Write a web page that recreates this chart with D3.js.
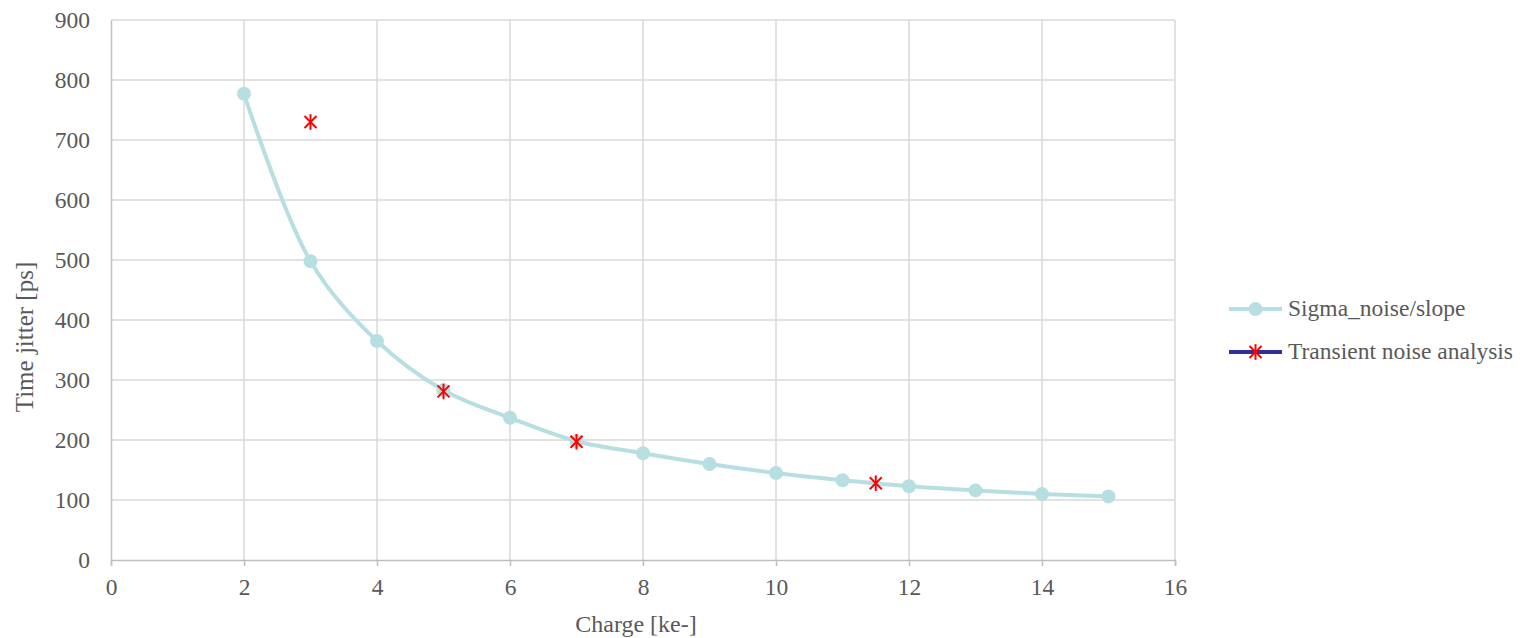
<!DOCTYPE html>
<html>
<head>
<meta charset="utf-8">
<script src="https://cdn.jsdelivr.net/npm/d3@7"></script>
<style>
  html, body { margin: 0; padding: 0; background: #fff; }
  svg { display: block; }
  text { font-family: "Liberation Serif", "Times New Roman", serif; fill: #595959; }
</style>
</head>
<body>
<svg id="chart" width="1527" height="638"></svg>
<script>
// Charge in ke- and the corresponding time jitter in ps
const sigmaCharge = [2, 3, 4, 5, 6, 7, 8, 9, 10, 11, 12, 13, 14, 15];
const sigmaJitter = [777, 498, 365, 283, 237, 198, 178, 160, 145, 133, 123, 116, 110, 106];
const transientCharge = [3, 5, 7, 11.5];
const transientJitter = [730, 281, 197, 128];
const xTicks = [0, 2, 4, 6, 8, 10, 12, 14, 16];
const yTicks = [0, 100, 200, 300, 400, 500, 600, 700, 800, 900];
const seriesNames = ["Sigma_noise/slope", "Transient noise analysis"];

const svg = d3.select("#chart");
const plot = { left: 111, right: 1175, top: 20, bottom: 560 };

const x = d3.scaleLinear().domain([0, 16]).range([plot.left, plot.right]);
const y = d3.scaleLinear().domain([0, 900]).range([plot.bottom, plot.top]);

const gridColor = "#d9d9d9";
const axisColor = "#bfbfbf";
const sigmaColor = "#b7dfe2";
const starColor = "#ff0000";
const tickFont = 23.5;

// Gridlines
svg.append("g").selectAll("line").data(yTicks.filter(d => d > 0)).join("line")
  .attr("x1", plot.left).attr("x2", plot.right)
  .attr("y1", d => y(d)).attr("y2", d => y(d))
  .attr("stroke", gridColor).attr("stroke-width", 1.5);
svg.append("g").selectAll("line").data(xTicks.filter(d => d > 0)).join("line")
  .attr("x1", d => x(d)).attr("x2", d => x(d))
  .attr("y1", plot.top).attr("y2", plot.bottom)
  .attr("stroke", gridColor).attr("stroke-width", 1.5);

// Axes
const xAxis = svg.append("g").attr("transform", `translate(0,${plot.bottom})`)
  .call(d3.axisBottom(x).tickValues(xTicks).tickSize(6).tickPadding(12).tickFormat(d3.format("d")));
xAxis.select(".domain").attr("stroke", axisColor).attr("stroke-width", 1.5);
xAxis.selectAll(".tick line").attr("stroke", axisColor).attr("stroke-width", 1.5);
xAxis.selectAll(".tick text").attr("font-size", tickFont).attr("fill", "#595959")
  .style("font-family", "'Liberation Serif', serif");

const yAxis = svg.append("g").attr("transform", `translate(${plot.left},0)`)
  .call(d3.axisLeft(y).tickValues(yTicks).tickSize(0).tickPadding(21).tickFormat(d3.format("d")));
yAxis.select(".domain").attr("stroke", axisColor).attr("stroke-width", 1.5);
yAxis.selectAll(".tick text").attr("font-size", tickFont).attr("fill", "#595959")
  .style("font-family", "'Liberation Serif', serif");

// Axis titles
svg.append("text").attr("x", 636).attr("y", 632)
  .attr("text-anchor", "middle").attr("font-size", 24).text("Charge [ke-]");
svg.append("text").attr("transform", "translate(33,337) rotate(-90)")
  .attr("text-anchor", "middle").attr("font-size", 25).text("Time jitter [ps]");

// Sigma_noise/slope smooth line with markers
const sigmaData = sigmaCharge.map((c, i) => [c, sigmaJitter[i]]);
const line = d3.line().x(d => x(d[0])).y(d => y(d[1])).curve(d3.curveCatmullRom.alpha(0.5));
svg.append("path").datum(sigmaData).attr("d", line)
  .attr("fill", "none").attr("stroke", sigmaColor).attr("stroke-width", 4);
svg.append("g").selectAll("circle").data(sigmaData).join("circle")
  .attr("cx", d => x(d[0])).attr("cy", d => y(d[1])).attr("r", 7).attr("fill", sigmaColor);

// Asterisk marker
function star(g, cx, cy, s) {
  g.append("line").attr("x1", cx - s).attr("y1", cy - s).attr("x2", cx + s).attr("y2", cy + s);
  g.append("line").attr("x1", cx - s).attr("y1", cy + s).attr("x2", cx + s).attr("y2", cy - s);
  g.append("line").attr("x1", cx).attr("y1", cy - s * 1.3).attr("x2", cx).attr("y2", cy + s * 1.3);
}
const starsG = svg.append("g").attr("stroke", starColor).attr("stroke-width", 2);
transientCharge.forEach((c, i) => star(starsG, x(c), y(transientJitter[i]), 6));

// Legend
const lg = svg.append("g");
lg.append("line").attr("x1", 1229).attr("x2", 1282).attr("y1", 309).attr("y2", 309)
  .attr("stroke", sigmaColor).attr("stroke-width", 4);
lg.append("circle").attr("cx", 1255.5).attr("cy", 309).attr("r", 7).attr("fill", sigmaColor);
lg.append("text").attr("x", 1288).attr("y", 316).attr("font-size", 23.5).text(seriesNames[0]);
lg.append("line").attr("x1", 1229).attr("x2", 1282).attr("y1", 352).attr("y2", 352)
  .attr("stroke", "#2e3192").attr("stroke-width", 4);
const lgStar = lg.append("g").attr("stroke", starColor).attr("stroke-width", 2);
star(lgStar, 1255.5, 352, 6);
lg.append("text").attr("x", 1288).attr("y", 359).attr("font-size", 23.5).text(seriesNames[1]);
</script>
</body>
</html>
